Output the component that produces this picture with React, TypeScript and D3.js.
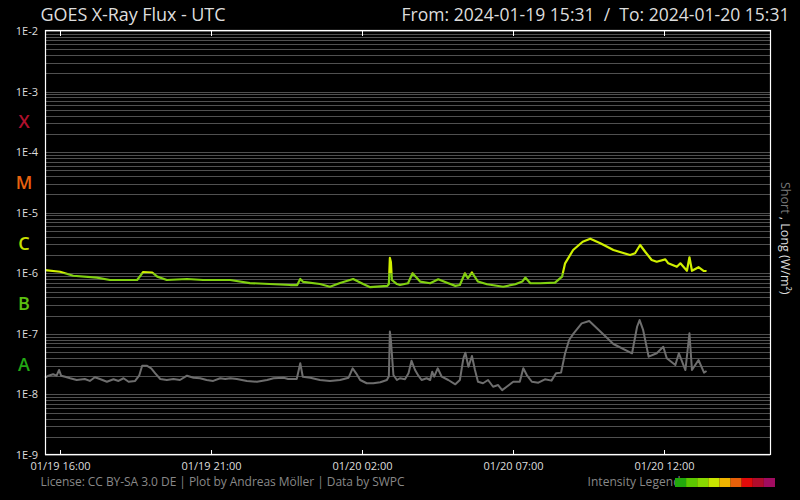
import React from "react";
import * as d3 from "d3";

const startTime = "2024-01-19T15:31:00Z";
const endTime = "2024-01-20T15:31:00Z";

const longTimes = ["15:31","16:01","16:27","17:14","17:40","18:34","18:46","19:04","19:14","19:33","20:13","20:45","21:39","22:18","23:38","23:52","23:58","00:04","00:37","00:57","01:17","01:43","02:03","02:17","02:51","02:54","02:56","02:58","03:00","03:10","03:16","03:32","03:41","03:56","04:16","04:32","04:52","05:06","05:15","05:25","05:31","05:39","05:51","06:09","06:41","07:05","07:19","07:25","07:35","07:55","08:24","08:38","08:44","09:00","09:19","09:34","09:54","10:20","10:53","11:03","11:13","11:23","11:36","11:46","12:03","12:09","12:26","12:33","12:46","12:51","12:56","13:09","13:19","13:25"];
const longFlux = [1.13e-6,1.06e-6,9.1e-7,8.5e-7,7.75e-7,7.75e-7,1.05e-6,1.03e-6,8.8e-7,7.75e-7,8.05e-7,7.75e-7,7.75e-7,6.9e-7,6.4e-7,6.4e-7,8.05e-7,7.2e-7,6.65e-7,6.0e-7,6.9e-7,8.05e-7,6.65e-7,5.9e-7,6.2e-7,6.65e-7,1.79e-6,1.53e-6,7.75e-7,6.65e-7,6.4e-7,6.85e-7,1.0e-6,7.3e-7,6.85e-7,7.95e-7,6.85e-7,6.2e-7,6.4e-7,1.0e-6,8.3e-7,1.03e-6,7.3e-7,6.6e-7,6.0e-7,6.6e-7,7.3e-7,8.5e-7,6.85e-7,6.85e-7,7.0e-7,8.8e-7,1.46e-6,2.42e-6,3.32e-6,3.72e-6,3.13e-6,2.42e-6,2.0e-6,2.14e-6,2.93e-6,2.27e-6,1.66e-6,1.55e-6,1.70e-6,1.46e-6,1.28e-6,1.46e-6,1.10e-6,1.84e-6,1.10e-6,1.26e-6,1.10e-6,1.09e-6];

const shortTimes = [
  "15:31","15:38","15:47","15:54","15:59","16:03","16:11","16:21","16:34","16:50",
  "17:00","17:10","17:20","17:34","17:47","17:57","18:07","18:17","18:30","18:38",
  "18:44","18:53","19:02","19:10","19:20","19:33","19:46","19:59","20:13","20:26",
  "20:39","20:52","21:05","21:19","21:29","21:39","21:52","22:12","22:32","22:52",
  "23:05","23:25","23:34","23:51","23:58","00:03","00:18","00:37","00:57","01:17",
  "01:34","01:42","01:49","01:57","02:10","02:23","02:37","02:50","02:54","02:56",
  "02:58","03:03","03:10","03:16","03:26","03:33","03:39","03:46","03:53","03:59",
  "04:09","04:16","04:20","04:24","04:31","04:39","04:52","05:06","05:15","05:22",
  "05:26","05:32","05:39","05:45","05:51","06:01","06:11","06:21","06:31","06:39",
  "06:48","07:01","07:14","07:21","07:28","07:38","07:51","08:04","08:17","08:26",
  "08:36","08:44","08:52","09:01","09:17","09:32","09:54","10:20","10:57","11:07",
  "11:12","11:19","11:30","11:46","11:59","12:06","12:23","12:30","12:43","12:51",
  "12:56","13:09","13:20","13:25"];
const shortFlux = [
  1.90e-8,2.04e-8,2.15e-8,2.04e-8,2.53e-8,2.04e-8,1.96e-8,1.85e-8,1.73e-8,1.80e-8,
  1.67e-8,1.92e-8,1.80e-8,1.62e-8,1.78e-8,1.67e-8,1.85e-8,1.62e-8,1.67e-8,2.04e-8,
  2.98e-8,2.98e-8,2.70e-8,2.23e-8,1.80e-8,1.73e-8,1.80e-8,1.73e-8,2.04e-8,1.89e-8,
  1.85e-8,1.73e-8,1.67e-8,1.85e-8,1.80e-8,1.85e-8,1.80e-8,1.67e-8,1.62e-8,1.73e-8,
  1.85e-8,1.89e-8,1.80e-8,1.80e-8,3.27e-8,1.96e-8,1.89e-8,1.73e-8,1.67e-8,1.73e-8,
  1.89e-8,2.70e-8,2.23e-8,1.73e-8,1.53e-8,1.53e-8,1.59e-8,1.73e-8,2.0e-8,1.09e-7,
  7.9e-8,2.09e-8,1.73e-8,1.85e-8,1.78e-8,2.23e-8,3.60e-8,2.53e-8,2.02e-8,1.73e-8,
  1.85e-8,1.73e-8,2.37e-8,1.96e-8,2.70e-8,1.96e-8,1.73e-8,1.47e-8,1.73e-8,3.95e-8,
  4.89e-8,2.87e-8,4.31e-8,2.53e-8,1.62e-8,1.53e-8,1.73e-8,1.34e-8,1.43e-8,1.18e-8,
  1.34e-8,1.62e-8,1.62e-8,2.70e-8,2.09e-8,1.62e-8,1.56e-8,1.78e-8,1.69e-8,2.23e-8,
  2.29e-8,4.78e-8,7.92e-8,1.02e-7,1.49e-7,1.63e-7,1.09e-7,6.8e-8,4.78e-8,1.31e-7,
  1.69e-7,1.16e-7,4.2e-8,4.78e-8,6.14e-8,3.95e-8,3.06e-8,4.78e-8,2.53e-8,1.02e-7,
  2.53e-8,3.70e-8,2.29e-8,2.44e-8];

const decadeLabels = ["1E-2","1E-3","1E-4","1E-5","1E-6","1E-7","1E-8","1E-9"];
const decadeValues = [1e-2,1e-3,1e-4,1e-5,1e-6,1e-7,1e-8,1e-9];
const classLetters = ["X","M","C","B","A"];
const classMid = [3.16e-4,3.16e-5,3.16e-6,3.16e-7,3.16e-8];
const classColors = ["#b0102c","#e8620e","#c8e000","#5cc010","#22a814"];
const tickTimes = ["2024-01-19T16:00:00Z","2024-01-19T21:00:00Z","2024-01-20T02:00:00Z","2024-01-20T07:00:00Z","2024-01-20T12:00:00Z"];
const legendColors = ["#22a80c","#5cc800","#88d800","#c8e400","#f0b400","#e8600a","#e00a0a","#b00c2c","#a00c60"];

const W = 800, H = 500;
const M = { left: 45, right: 770, top: 31, bottom: 455 };
const FONT = "'Open Sans', 'DejaVu Sans', sans-serif";

function toDate(hm: string): Date {
  const day = hm >= "15:31" ? "19" : "20";
  return new Date(`2024-01-${day}T${hm}:00Z`);
}

export default function App() {
  const x = d3.scaleUtc().domain([new Date(startTime), new Date(endTime)]).range([M.left, M.right]);
  const y = d3.scaleLog().domain([1e-9, 1e-2]).range([M.bottom, M.top]);

  const n1 = Math.min(longTimes.length, longFlux.length);
  const n2 = Math.min(shortTimes.length, shortFlux.length);
  const longData = longTimes.slice(0, n1).map((t, i) => ({ t: toDate(t), v: longFlux[i] }));
  const shortData = shortTimes.slice(0, n2).map((t, i) => ({ t: toDate(t), v: shortFlux[i] }));
  const line = d3.line<{ t: Date; v: number }>().x(d => x(d.t)).y(d => y(d.v));

  const grid: number[] = [];
  for (let e = -9; e <= -3; e++) for (let k = 1; k <= 9; k++) grid.push(k * Math.pow(10, e));
  grid.push(1e-2);

  const fmt = d3.utcFormat("%m/%d %H:%M");
  const cY = y(1e-6);

  return (
    <svg width={W} height={H} style={{ position: "absolute", left: 0, top: 0, background: "#000" }} fontFamily={FONT}>
      <defs>
        <clipPath id="aboveC"><rect x={0} y={0} width={W} height={cY} /></clipPath>
        <clipPath id="belowC"><rect x={0} y={cY} width={W} height={H - cY} /></clipPath>
      </defs>
      <rect x={0} y={0} width={W} height={H} fill="#000" />
      {grid.map((g, i) => (
        <line key={i} x1={M.left} x2={M.right} y1={Math.round(y(g)) + 0.5} y2={Math.round(y(g)) + 0.5} stroke="#505050" strokeWidth={1} />
      ))}
      <path d={line(shortData) || ""} fill="none" stroke="#6e6e6e" strokeWidth={2} strokeLinejoin="round" />
      <path d={line(longData) || ""} fill="none" stroke="#80d010" strokeWidth={2.2} strokeLinejoin="round" clipPath="url(#belowC)" />
      <path d={line(longData) || ""} fill="none" stroke="#d0f000" strokeWidth={2.2} strokeLinejoin="round" clipPath="url(#aboveC)" />
      <rect x={M.left + 0.5} y={M.top - 0.5} width={M.right - M.left} height={M.bottom - M.top} fill="none" stroke="#fff" strokeWidth={1.2} />
      {tickTimes.map((t, i) => {
        const tx = Math.round(x(new Date(t))) + 0.5;
        return (
          <g key={i}>
            <line x1={tx} x2={tx} y1={M.top} y2={M.top + 5} stroke="#fff" />
            <line x1={tx} x2={tx} y1={M.bottom - 5} y2={M.bottom} stroke="#fff" />
            <text x={tx} y={470} textAnchor="middle" fontSize={11} fill="#ddd">{fmt(new Date(t))}</text>
          </g>
        );
      })}
      {decadeLabels.map((l, i) => (
        <text key={l} x={38} y={y(decadeValues[i]) + 4} textAnchor="end" fontSize={11} fill="#ddd">{l}</text>
      ))}
      {classLetters.map((c, i) => (
        <text key={c} x={24} y={y(classMid[i]) + 6.5} textAnchor="middle" fontSize={18} fontWeight={600} fill={classColors[i]}>{c}</text>
      ))}
      <text x={40.5} y={21} fontSize={18} fill="#ddd" textLength={185} lengthAdjust="spacing">GOES X-Ray Flux - UTC</text>
      <text x={401.5} y={21} fontSize={17.5} fill="#ddd" textLength={388} lengthAdjust="spacing" style={{ whiteSpace: "pre" }}>{"From: 2024-01-19 15:31  /  To: 2024-01-20 15:31"}</text>
      <text transform="translate(781,182) rotate(90)" fontSize={12.5} fill="#ddd" style={{ whiteSpace: "pre" }}>
        <tspan fill="#777">Short</tspan><tspan>{" , Long (W/m²)"}</tspan>
      </text>
      <text x={40.5} y={486} fontSize={12} fill="#888" textLength={364} lengthAdjust="spacing">License: CC BY-SA 3.0 DE | Plot by Andreas Möller | Data by SWPC</text>
      <text x={587.5} y={486} fontSize={12} fill="#888" textLength={93} lengthAdjust="spacing">Intensity Legend</text>
      {legendColors.map((c, i) => (
        <rect key={i} x={675 + i * 11.1} y={478} width={11.2} height={9} fill={c} />
      ))}
    </svg>
  );
}
